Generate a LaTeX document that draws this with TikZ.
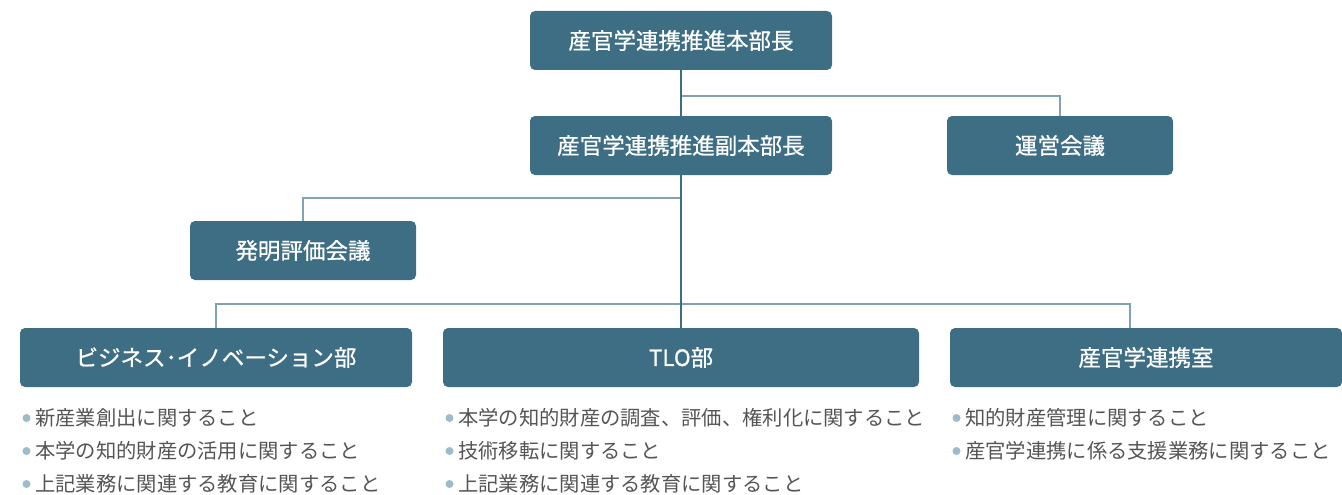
\documentclass[tikz,border=0pt]{standalone}
\usepackage{fontspec}
\setmainfont{Noto Sans CJK JP}
\newfontfamily\boxfont[FakeBold=0.8]{Noto Sans CJK JP}
\definecolor{boxc}{HTML}{3D6E84}
\definecolor{linec}{HTML}{7FA3B3}
\definecolor{bulc}{HTML}{9DBBC8}
\definecolor{txtc}{HTML}{555555}
\tikzset{
  orgbox/.style={fill=boxc, rounded corners=5pt, text=white, font=\boxfont\fontsize{22.5}{26}\selectfont, inner sep=0pt, anchor=center},
  item/.style={anchor=west, text=txtc, font=\fontsize{20.3}{24}\selectfont, inner sep=0pt},
  mainln/.style={draw=boxc, line width=1.2pt},
  subln/.style={draw=linec, line width=1.2pt},
}
\begin{document}
\begin{tikzpicture}[x=1pt,y=-1pt]
\useasboundingbox (0,0) rectangle (1342,495);
% boxes
\node[orgbox, minimum width=302pt, minimum height=59pt] (top) at (681,40.5) {産官学連携推進本部長};
\node[orgbox, minimum width=302pt, minimum height=59pt] (vice) at (681,145.5) {産官学連携推進副本部長};
\node[orgbox, minimum width=226pt, minimum height=59pt] (unei) at (1060,145.5) {運営会議};
\node[orgbox, minimum width=226pt, minimum height=59pt] (hatsu) at (303,250.5) {発明評価会議};
\node[orgbox, minimum width=392pt, minimum height=59pt] (biz) at (216,357.5) {ビジネス･イノベーション部};
\node[orgbox, minimum width=476pt, minimum height=59pt] (tlo) at (681,357.5) {TLO部};
\node[orgbox, minimum width=392pt, minimum height=59pt] (sanshitsu) at (1146,357.5) {産官学連携室};
% connectors
\coordinate (j1) at (681,96);
\coordinate (j2) at (681,198);
\coordinate (j3) at (681,304);
\draw[subln] (j1) -| (unei.north);
\draw[subln] (j2) -| (hatsu.north);
\draw[subln] (j3) -| (biz.north);
\draw[subln] (j3) -| ([xshift=-16pt]sanshitsu.north);
\draw[mainln] (top.south) -- (vice.north);
\draw[mainln] (vice.south) -- (tlo.north);
% lists
\foreach \x/\y/\n/\t in {
  35/418/a1/新産業創出に関すること,
  35/451/a2/本学の知的財産の活用に関すること,
  35/484/a3/上記業務に関連する教育に関すること,
  458/418/b1/本学の知的財産の調査、評価、権利化に関すること,
  458/451/b2/技術移転に関すること,
  458/484/b3/上記業務に関連する教育に関すること,
  965/418/c1/知的財産管理に関すること,
  965/451/c2/産官学連携に係る支援業務に関すること}{
  \fill[bulc] (\x-8.5,\y) circle (4pt);
  \node[item] (\n) at (\x,\y) {\t};
}
\end{tikzpicture}
\end{document}
